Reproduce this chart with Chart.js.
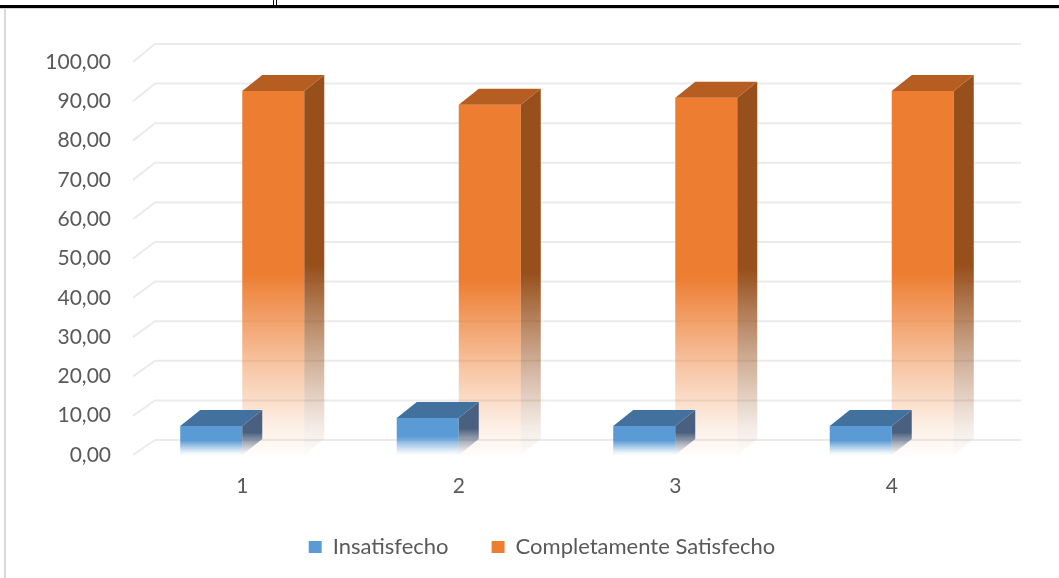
<!DOCTYPE html>
<html>
<head>
<meta charset="utf-8">
<script src="https://cdn.jsdelivr.net/npm/chart.js@4.4.1/dist/chart.umd.min.js"></script>
<style>
    html, body { margin: 0; padding: 0; background: #fff; }
    #wrap { position: relative; width: 1059px; height: 578px; overflow: hidden; }
    #wrap canvas { position: absolute; left: 0; top: 0; }
    .rule-top { position: absolute; left: 0; top: 5px; width: 1059px; height: 3px; background: #000; }
    .rule-top-shade { position: absolute; left: 0; top: 8px; width: 1059px; height: 1px; background: #d4d4d4; }
    .rule-v { position: absolute; top: 0; width: 1px; height: 6px; background: #000; }
    .frame-left { position: absolute; left: 4px; top: 8px; width: 2px; height: 570px; background: #d9d9d9; }
</style>
</head>
<body>
<div id="wrap">
    <canvas id="chart" width="1059" height="578"></canvas>
    <div class="rule-top"></div>
    <div class="rule-top-shade"></div>
    <div class="rule-v" style="left:273px"></div>
    <div class="rule-v" style="left:276px"></div>
    <div class="frame-left"></div>
</div>
<script>
// Data
const categories = ['1', '2', '3', '4'];
const seriesNames = ['Insatisfecho', 'Completamente Satisfecho'];
const insatisfecho = [7.4, 9.4, 7.4, 7.4];
const completamenteSatisfecho = [92.6, 89.1, 90.9, 92.6];
const yTicks = [0, 10, 20, 30, 40, 50, 60, 70, 80, 90, 100];

// Colours: front, top and side faces
const BLUE = { front: '91,155,213', top: '65,113,156', side: '74,96,128' };
const ORANGE = { front: '237,125,49', top: '182,94,34', side: '151,79,27' };

// depth offset of the 3D walls and bars
const DEPTH_X = 20;
const DEPTH_Y = -16;

const fmt = v => v.toFixed(2).replace('.', ',');

// vertical fade, solid at the top, almost gone at the base
function fadeGradient(c, rgb, top, base) {
    const g = c.createLinearGradient(0, top, 0, base);
    g.addColorStop(0, `rgba(${rgb},1)`);
    g.addColorStop(0.5, `rgba(${rgb},1)`);
    g.addColorStop(0.75, `rgba(${rgb},0.45)`);
    g.addColorStop(0.92, `rgba(${rgb},0.12)`);
    g.addColorStop(1, `rgba(${rgb},0.02)`);
    return g;
}

function barFill(rgb) {
    return (ctx) => {
        const chart = ctx.chart;
        if (ctx.type !== 'data' || !chart.chartArea) return `rgb(${rgb})`;
        const y = chart.scales.y;
        return fadeGradient(chart.ctx, rgb, y.getPixelForValue(ctx.raw), y.getPixelForValue(0));
    };
}

// back wall gridlines with the diagonal at the front edge
const wallGrid = {
    id: 'wallGrid',
    beforeDatasetsDraw(chart) {
        const { ctx, chartArea, scales } = chart;
        const y = scales.y;
        ctx.save();
        ctx.strokeStyle = '#ebebeb';
        ctx.lineWidth = 2;
        yTicks.forEach(v => {
            const py = y.getPixelForValue(v);
            const dy = -15 - 3 * (v / 100);
            ctx.beginPath();
            ctx.moveTo(chartArea.left - 1, py);
            ctx.lineTo(chartArea.left + DEPTH_X + 1, py + dy);
            ctx.lineTo(chartArea.right + DEPTH_X + 1, py + dy);
            ctx.stroke();
        });
        ctx.restore();
    }
};

// top and side faces of each bar
const barDepth = {
    id: 'barDepth',
    afterDatasetsDraw(chart) {
        const { ctx } = chart;
        const base = chart.scales.y.getPixelForValue(0);
        const palettes = [BLUE, ORANGE];
        // orange first so the blue faces sit over it
        [1, 0].forEach(di => {
            const pal = palettes[di];
            chart.getDatasetMeta(di).data.forEach(bar => {
                const { x, y, width } = bar.getProps(['x', 'y', 'width'], true);
                const x0 = x - width / 2;
                const x1 = x + width / 2;

                // side face
                ctx.save();
                ctx.beginPath();
                ctx.moveTo(x1, y);
                ctx.lineTo(x1 + DEPTH_X, y + DEPTH_Y);
                ctx.lineTo(x1 + DEPTH_X, base + DEPTH_Y);
                ctx.lineTo(x1, base);
                ctx.closePath();
                ctx.fillStyle = fadeGradient(ctx, pal.side, y + DEPTH_Y, base);
                ctx.fill();

                // top face
                ctx.beginPath();
                ctx.moveTo(x0, y);
                ctx.lineTo(x1, y);
                ctx.lineTo(x1 + DEPTH_X, y + DEPTH_Y);
                ctx.lineTo(x0 + DEPTH_X, y + DEPTH_Y);
                ctx.closePath();
                ctx.fillStyle = `rgb(${pal.top})`;
                ctx.fill();
                ctx.restore();
            });
        });
    }
};

// legend sits a little right of the canvas centre
const legendShift = {
    id: 'legendShift',
    afterLayout(chart) {
        if (chart.legend) chart.legend.left += 84;
    }
};

const tickFont = { family: 'Lato, "Noto Sans", sans-serif', size: 21 };
const legendFont = { family: 'Lato, "Noto Sans", sans-serif', size: 22 };

new Chart(document.getElementById('chart'), {
    type: 'bar',
    data: {
        labels: categories,
        datasets: [
            {
                label: seriesNames[0],
                data: insatisfecho,
                backgroundColor: barFill(BLUE.front),
                borderWidth: 0
            },
            {
                label: seriesNames[1],
                data: completamenteSatisfecho,
                backgroundColor: barFill(ORANGE.front),
                borderWidth: 0
            }
        ]
    },
    options: {
        responsive: false,
        animation: false,
        datasets: {
            bar: { categoryPercentage: 0.573, barPercentage: 1.0 }
        },
        layout: { padding: { top: 62, right: 59, bottom: 10, left: 0 } },
        scales: {
            x: {
                grid: { display: false, drawTicks: false },
                border: { display: false },
                ticks: { color: '#595959', font: tickFont, padding: 19 },
                afterFit(scale) { scale.height = 38; }
            },
            y: {
                min: 0,
                max: 100,
                grid: { display: false, drawTicks: false },
                border: { display: false },
                ticks: {
                    stepSize: 10,
                    color: '#595959',
                    font: tickFont,
                    padding: 23,
                    callback: v => fmt(v)
                },
                afterFit(scale) { scale.width = 134; }
            }
        },
        plugins: {
            legend: {
                position: 'bottom',
                labels: {
                    color: '#595959',
                    font: legendFont,
                    boxWidth: 13,
                    boxHeight: 12,
                    padding: 43,
                    generateLabels: (chart) => chart.data.datasets.map((ds, i) => ({
                        text: ds.label,
                        fillStyle: `rgb(${[BLUE, ORANGE][i].front})`,
                        strokeStyle: 'rgba(0,0,0,0)',
                        lineWidth: 0,
                        fontColor: '#595959',
                        hidden: false,
                        datasetIndex: i
                    }))
                }
            },
            tooltip: { enabled: false }
        }
    },
    plugins: [wallGrid, barDepth, legendShift]
});
</script>
</body>
</html>
